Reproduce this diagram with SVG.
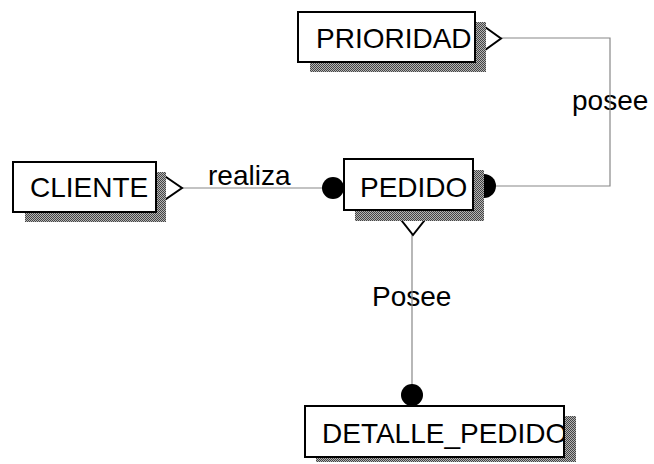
<svg xmlns="http://www.w3.org/2000/svg" width="654" height="464" viewBox="0 0 654 464">
<style>
.box{fill:#fff;stroke:#000;stroke-width:2}
.sh{fill:url(#dither)}
.t{font-family:"Liberation Sans",Arial,sans-serif;font-size:28px;fill:#000}
.ln{fill:none;stroke:#888;stroke-width:1.2}
.dot{fill:#000}
.dia{fill:#fff;stroke:#000;stroke-width:2}
</style>
<defs>
<pattern id="dither" width="2" height="2" patternUnits="userSpaceOnUse">
<rect width="2" height="2" fill="#b4b4b4"/>
<rect width="1" height="1" fill="#444"/>
<rect x="1" y="1" width="1" height="1" fill="#444"/>
</pattern>
<clipPath id="clipDet"><rect x="306" y="407" width="257" height="49"/></clipPath>
</defs>
<rect width="654" height="464" fill="#fff"/>
<g id="labels">
<text class="t" x="208" y="185">realiza</text>
<text class="t" x="572" y="110">posee</text>
<text class="t" x="372" y="306">Posee</text>
</g>
<g id="connectors">
<line class="ln" x1="181" y1="188" x2="323" y2="188"/>
<path class="dia" d="M166 177 L182 188 L166 199 L150 188 Z"/>
<circle class="dot" cx="333" cy="188" r="11"/>
<path class="ln" d="M495 186 H610 V38 H501"/>
<circle class="dot" cx="484" cy="186" r="12"/>
<path class="dia" d="M485 27 L501 38.5 L485 50 L469 38.5 Z"/>
<line class="ln" x1="412" y1="234" x2="412" y2="386"/>
<path class="dia" d="M413 207 L424 221 L413 235 L402 221 Z"/>
<circle class="dot" cx="412" cy="395" r="11"/>
</g>
<g id="PRIORIDAD">
<rect class="sh" x="310" y="22" width="176" height="50"/>
<rect class="box" x="298" y="12" width="177" height="50"/>
<text class="t" x="316" y="48">PRIORIDAD</text>
</g>
<g id="CLIENTE">
<rect class="sh" x="25" y="172" width="141" height="50"/>
<rect class="box" x="13" y="162" width="143" height="50"/>
<text class="t" x="30" y="197">CLIENTE</text>
</g>
<g id="PEDIDO">
<rect class="sh" x="355" y="170" width="129" height="51"/>
<rect class="box" x="344" y="159" width="129" height="51"/>
<text class="t" x="360" y="197">PEDIDO</text>
</g>
<g id="DETALLE_PEDIDO">
<rect class="sh" x="316" y="416" width="260" height="46"/>
<rect class="box" x="305" y="406" width="259" height="51"/>
<text class="t" x="322" y="443" clip-path="url(#clipDet)">DETALLE_PEDIDO</text>
</g>
</svg>
